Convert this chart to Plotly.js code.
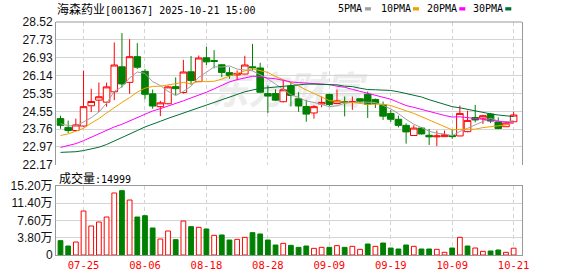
<!DOCTYPE html>
<html><head><meta charset="utf-8">
<script src="https://cdn.plot.ly/plotly-3.0.1.min.js"></script>
<style>html,body{margin:0;padding:0;background:#fff;}#chart{width:578px;height:276px;}</style>
</head><body><div id="chart"></div>
<script>
const dates = ['07-22','07-23','07-24','07-25','07-28','07-29','07-30','07-31','08-01','08-04','08-05','08-06','08-07','08-08','08-11','08-12','08-13','08-14','08-15','08-18','08-19','08-20','08-21','08-22','08-25','08-26','08-27','08-28','08-29','09-01','09-02','09-03','09-04','09-05','09-08','09-09','09-10','09-11','09-12','09-15','09-16','09-17','09-18','09-19','09-22','09-23','09-24','09-25','09-26','09-29','09-30','10-09','10-10','10-13','10-14','10-15','10-16','10-17','10-20','10-21'];
const openP  = [24.23,23.84,23.70,23.90,24.80,25.05,24.96,25.42,26.53,25.84,26.98,26.33,25.33,24.76,24.89,25.65,25.39,26.31,25.87,26.93,26.81,26.62,26.27,26.17,26.21,26.53,26.48,25.34,25.34,24.98,25.68,25.11,24.77,24.48,24.88,25.30,24.90,24.99,24.95,25.11,25.31,25.08,24.84,24.46,24.20,23.93,23.48,23.81,23.49,23.42,23.43,23.48,23.46,23.65,24.28,24.25,24.43,24.08,23.87,24.09];
const highP  = [24.36,24.14,24.23,26.36,25.56,25.83,25.83,27.61,28.03,27.76,27.58,26.43,25.52,25.02,25.70,26.06,26.84,27.01,27.03,27.42,27.27,26.65,26.51,26.37,27.02,27.55,26.71,25.70,25.53,25.95,25.83,25.40,25.06,24.83,25.21,25.33,25.52,25.21,25.21,25.14,25.43,25.12,24.99,24.61,24.36,24.02,23.93,23.86,23.77,23.70,23.70,23.74,24.81,24.58,24.84,24.40,24.48,24.28,24.11,24.54];
const lowP   = [23.78,23.59,23.67,23.87,24.52,24.52,24.76,25.05,25.61,25.33,26.43,25.09,24.67,24.34,24.86,25.28,25.34,25.73,25.86,26.61,26.46,26.08,26.00,25.93,26.20,26.36,25.37,24.48,25.02,24.95,24.77,24.53,24.09,24.23,24.73,24.79,24.87,24.33,24.62,24.92,24.26,24.70,24.17,24.08,23.84,23.12,23.46,23.52,23.06,23.01,23.42,23.33,23.45,23.62,24.06,23.99,24.03,23.76,23.86,24.08];
const closeP = [23.93,23.70,23.95,24.76,24.99,25.20,25.64,26.61,25.77,26.98,26.51,25.31,24.79,24.93,25.64,25.56,26.30,25.92,26.92,26.75,26.77,26.28,26.15,26.23,26.61,26.49,25.40,25.23,25.05,25.51,25.26,24.79,24.43,24.76,24.95,24.86,25.02,24.95,24.98,25.00,24.87,24.90,24.34,24.20,23.93,23.64,23.81,23.55,23.42,23.46,23.51,23.43,24.46,24.15,24.17,24.36,24.12,23.79,24.03,24.39];
const volume = [31600,19800,28600,96900,63900,72700,83700,136600,141700,121100,83700,86600,59500,35200,52900,33800,74900,62400,60900,57300,43300,44100,33000,34500,38900,49200,46300,33000,22000,25700,21300,16900,19800,14700,16900,16900,20600,16900,19100,12500,24200,19100,26400,15400,13200,22000,19100,13200,13200,12500,5900,15400,38900,19800,15400,8100,8800,11000,5900,14999];
const ma5  = [24.00,23.92,23.90,24.08,24.27,24.52,24.91,25.44,25.64,26.04,26.30,26.24,25.87,25.70,25.44,25.25,25.44,25.67,26.07,26.29,26.53,26.52,26.57,26.43,26.40,26.35,26.18,25.99,25.76,25.54,25.29,25.17,25.01,24.95,24.84,24.76,24.80,24.91,24.95,24.96,24.96,24.94,24.82,24.66,24.45,24.20,23.98,23.83,23.67,23.58,23.55,23.47,23.66,23.80,23.94,24.11,24.25,24.12,24.09,24.14];
const ma10 = [23.48,23.55,23.67,23.80,24.03,24.23,24.48,24.73,24.95,25.16,25.41,25.58,25.66,25.67,25.74,25.78,25.84,25.77,25.89,25.87,25.89,25.98,26.12,26.25,26.35,26.44,26.35,26.28,26.10,25.97,25.82,25.68,25.50,25.36,25.19,25.03,24.99,24.96,24.95,24.90,24.86,24.87,24.87,24.81,24.71,24.58,24.46,24.33,24.17,24.02,23.88,23.73,23.75,23.74,23.76,23.83,23.86,23.89,23.95,24.04];
const ma20 = [22.95,23.03,23.12,23.25,23.40,23.55,23.72,23.86,23.98,24.13,24.30,24.45,24.57,24.67,24.78,24.89,25.02,25.15,25.27,25.40,25.55,25.72,25.86,25.96,26.05,26.11,26.10,26.03,26.00,25.92,25.86,25.83,25.81,25.81,25.77,25.74,25.67,25.62,25.53,25.44,25.34,25.28,25.19,25.09,24.95,24.81,24.73,24.65,24.56,24.46,24.37,24.30,24.31,24.28,24.24,24.21,24.16,24.11,24.06,24.03];
const ma30 = [22.73,22.74,22.76,22.81,22.89,22.96,23.08,23.23,23.37,23.52,23.70,23.86,24.00,24.11,24.24,24.36,24.48,24.58,24.70,24.81,24.95,25.07,25.20,25.31,25.42,25.50,25.57,25.60,25.63,25.67,25.71,25.75,25.76,25.76,25.76,25.75,25.73,25.67,25.65,25.58,25.52,25.51,25.50,25.48,25.42,25.35,25.27,25.19,25.07,24.96,24.85,24.76,24.71,24.64,24.56,24.48,24.44,24.39,24.36,24.32];
const priceTicks = [22.17,22.97,23.76,24.55,25.35,26.14,26.93,27.73,28.52];
const volTickVals = [0,38000,76000,114000,152000];
const volTickText = ['0','3.80万','7.60万','11.40万','15.20万'];
const dateTicks = ['07-25','08-06','08-18','08-28','09-09','09-19','10-09','10-21'];
const stockName = '海森药业';
const stockCode = '[001367]';
const timeStamp = '2025-10-21 15:00';
const volLabel = '成交量';
const lastVolume = 14999;
const maNames = ['5PMA','10PMA','20PMA','30PMA'];
const watermark = '东方财富';

const RED = '#ff0000', GREEN = '#008000';
const maColors = ['#a0a0a0','#f0a000','#ff00ff','#006e32'];

// pixel helpers (plot area: x 56..522, y 22..255)
const PL = 56, PR = 522, PT = 22, PB = 255;
const px = x => (x - PL) / (PR - PL);
const py = y => (PB - y) / (PB - PT);

const up = closeP.map((c, i) => i === 0 ? c >= openP[i] : c >= closeP[i - 1]);

const traces = [];
traces.push({
  type: 'candlestick', x: dates, open: openP, high: highP, low: lowP, close: closeP,
  xaxis: 'x', yaxis: 'y', whiskerwidth: 0,
  line: {width: 1},
  increasing: {line: {color: RED, width: 1}, fillcolor: '#ffffff'},
  decreasing: {line: {color: GREEN, width: 1}, fillcolor: GREEN},
  hoverinfo: 'skip', showlegend: false
});
[ma5, ma10, ma20, ma30].forEach((m, k) => {
  traces.push({type: 'scatter', mode: 'lines', x: dates, y: m, xaxis: 'x', yaxis: 'y',
    line: {color: maColors[k], width: 1}, hoverinfo: 'skip', showlegend: false, name: maNames[k]});
});
traces.push({
  type: 'bar', x: dates, y: volume, xaxis: 'x2', yaxis: 'y2', width: 0.62,
  marker: {color: up.map(u => u ? '#ffffff' : GREEN), line: {color: up.map(u => u ? RED : GREEN), width: 1}},
  hoverinfo: 'skip', showlegend: false
});

const xr = [-0.586, 60.09];
const gridc = '#d4d4d4';
const cjk = s => '<span style="font-family:\'Noto Sans CJK SC\';font-size:12px">' + s + '</span>';

const annotations = [
  {xref: 'paper', yref: 'paper', x: px(55), y: py(9), xanchor: 'left', yanchor: 'middle', showarrow: false,
   text: cjk(stockName) + stockCode + ' ' + timeStamp,
   font: {family: 'DejaVu Sans Mono, monospace', size: 10, color: '#000'}},
  {xref: 'paper', yref: 'paper', x: px(57), y: py(177), xanchor: 'left', yanchor: 'middle', showarrow: false,
   text: cjk(volLabel) + ':' + lastVolume,
   font: {family: 'DejaVu Sans Mono, monospace', size: 10, color: '#000'}}
];
const legTextX = [336, 379, 424.5, 470.5];
const legSqX = [365, 413, 459.3, 505.3];
const shapes = [
  {type: 'line', xref: 'paper', yref: 'paper', x0: 0, x1: 1, y0: 1, y1: 1, line: {color: '#999', width: 1}},
  {type: 'rect', xref: 'paper', yref: 'paper', x0: px(195), x1: px(378), y0: py(112), y1: py(75),
   layer: 'below', line: {width: 0}, fillcolor: 'rgba(0,0,0,0)',
   label: {text: watermark, font: {family: 'Noto Sans CJK SC', size: 38, color: '#ececec', weight: 'bold', style: 'italic'}, textposition: 'middle center'}}
];
maNames.forEach((n, k) => {
  annotations.push({xref: 'paper', yref: 'paper', x: px(legTextX[k]), y: py(9), xanchor: 'left', yanchor: 'middle',
    showarrow: false, text: n, font: {family: 'DejaVu Sans Mono, monospace', size: 10, color: '#000'}});
  shapes.push({type: 'rect', xref: 'paper', yref: 'paper', x0: px(legSqX[k]), x1: px(legSqX[k] + 6), y0: py(10.5), y1: py(7.2),
    line: {width: 0}, fillcolor: maColors[k]});
});

const layout = {
  width: 578, height: 276, margin: {l: PL, r: 578 - PR, t: PT, b: 276 - PB, pad: 0},
  paper_bgcolor: '#fff', plot_bgcolor: '#fff', showlegend: false, boxgap: 0.1, boxgroupgap: 0.05,
  xaxis: {type: 'category', range: xr, anchor: 'y', domain: [0, 1], tickvals: dateTicks, showticklabels: false,
    showgrid: true, gridcolor: gridc, griddash: '4px,3px', gridwidth: 1, ticks: '', showline: false, zeroline: false,
    rangeslider: {visible: false}, fixedrange: true},
  yaxis: {domain: [(PB - 165) / (PB - PT), 1], range: [priceTicks[0], priceTicks[priceTicks.length - 1]], tickvals: priceTicks,
    tickformat: '.2f', showgrid: true, gridcolor: gridc, gridwidth: 1, showline: true, mirror: true, linecolor: '#999', linewidth: 1,
    ticks: '', zeroline: false, tickfont: {family: 'Liberation Sans, Arial, sans-serif', size: 12, color: '#111'}, fixedrange: true},
  xaxis2: {type: 'category', range: xr, anchor: 'y2', domain: [0, 1], tickvals: dateTicks, showgrid: true, gridcolor: gridc,
    griddash: '4px,3px', gridwidth: 1, ticks: '', showline: true, mirror: true, linecolor: '#999', linewidth: 1, zeroline: false,
    tickangle: 0, tickfont: {family: 'DejaVu Sans Mono, monospace', size: 10.5, color: RED}, fixedrange: true},
  yaxis2: {domain: [0, (PB - 186) / (PB - PT)], range: [0, volTickVals[volTickVals.length - 1]], tickvals: volTickVals, ticktext: volTickText,
    showgrid: true, gridcolor: gridc, gridwidth: 1, showline: true, mirror: true, linecolor: '#999', linewidth: 1, ticks: '', zeroline: false,
    tickfont: {family: 'Liberation Sans, Noto Sans CJK SC, sans-serif', size: 12, color: '#111'}, fixedrange: true},
  annotations: annotations,
  shapes: shapes
};
Plotly.newPlot('chart', traces, layout, {staticPlot: true, displayModeBar: false});
</script></body></html>
